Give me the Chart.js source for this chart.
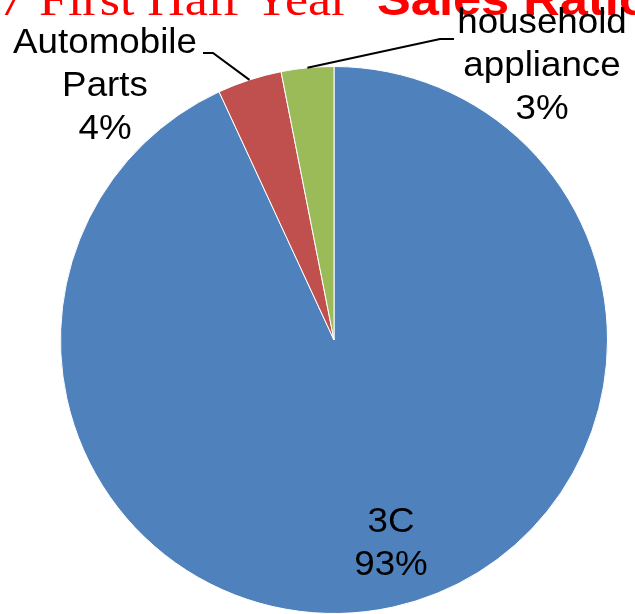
<!DOCTYPE html>
<html lang="en">
<head>
    <meta charset="UTF-8">
    <title>Sales Ratio</title>
    <script src="https://cdn.jsdelivr.net/npm/chart.js"></script>
    <style>
        html, body { margin: 0; padding: 0; background: #ffffff; }
        #wrap { width: 635px; height: 614px; position: relative; overflow: hidden; }
    </style>
</head>
<body>
    <div id="wrap">
        <canvas id="pie" width="635" height="614"></canvas>
    </div>

    <script>
        // data
        const categories = ['3C', 'Automobile Parts', 'household appliance'];
        const labelLines = [['3C'], ['Automobile', 'Parts'], ['household', 'appliance']];
        const shares = [93.1, 3.8, 3.1];
        const sliceColors = ['#4F81BD', '#C0504D', '#9BBB59'];
        const titleYear = '2017';
        const titleLeft = 'First Half Year';
        const titleRight = 'Sales Ratio';

        // where each label sits (centre x, first baseline) and the leader elbow, if any
        const labelSpots = [
            { x: 391, y: 532, leader: null },
            { x: 105, y: 53, leader: [[213, 53], [203, 53]] },
            { x: 542, y: 33, leader: [[440, 39], [454, 39]] }
        ];

        const SX = 1.05; // the original text is a little stretched sideways

        function stretchedText(ctx, text, x, y, align, sx) {
            ctx.save();
            ctx.translate(x, y);
            ctx.scale(sx, 1);
            ctx.textAlign = align;
            ctx.fillText(text, 0, 0);
            ctx.restore();
        }

        const labelPlugin = {
            id: 'outsideLabels',
            afterDraw(chart) {
                const ctx = chart.ctx;
                const arcs = chart.getDatasetMeta(0).data;
                const total = shares.reduce((a, b) => a + b, 0);

                // title, only its lower part fits in the frame
                ctx.save();
                ctx.fillStyle = '#FF0000';
                ctx.textBaseline = 'alphabetic';
                ctx.font = '46px "Liberation Serif", "Times New Roman", serif';
                stretchedText(ctx, titleYear, 24, 15, 'right', 1.1);
                stretchedText(ctx, titleLeft, 39, 15, 'left', 1.13);
                ctx.font = 'bold 46px "Liberation Sans", Arial, sans-serif';
                stretchedText(ctx, titleRight, 377, 15, 'left', 1.1);
                ctx.restore();

                ctx.save();
                arcs.forEach((arc, i) => {
                    const p = arc.getProps(['x', 'y', 'startAngle', 'endAngle', 'outerRadius'], true);
                    const mid = (p.startAngle + p.endAngle) / 2;
                    const spot = labelSpots[i];

                    if (spot.leader) {
                        ctx.strokeStyle = '#000000';
                        ctx.lineWidth = 2;
                        ctx.beginPath();
                        ctx.moveTo(p.x + Math.cos(mid) * p.outerRadius, p.y + Math.sin(mid) * p.outerRadius);
                        spot.leader.forEach(pt => ctx.lineTo(pt[0], pt[1]));
                        ctx.stroke();
                    }

                    const lines = labelLines[i].concat([Math.round(shares[i] / total * 100) + '%']);
                    ctx.fillStyle = '#000000';
                    ctx.font = '35px "Liberation Sans", Arial, sans-serif';
                    ctx.textBaseline = 'alphabetic';
                    lines.forEach((line, k) => {
                        stretchedText(ctx, line, spot.x, spot.y + k * 43, 'center', SX);
                    });
                });
                ctx.restore();
            }
        };

        new Chart(document.getElementById('pie'), {
            type: 'pie',
            data: {
                labels: categories,
                datasets: [{
                    data: shares,
                    backgroundColor: sliceColors,
                    borderColor: '#ffffff',
                    borderWidth: 1
                }]
            },
            options: {
                responsive: false,
                devicePixelRatio: 1,
                animation: false,
                layout: { padding: { left: 60, right: 27, top: 66, bottom: 0 } },
                plugins: {
                    legend: { display: false },
                    tooltip: { enabled: false }
                }
            },
            plugins: [labelPlugin]
        });
    </script>
</body>
</html>
